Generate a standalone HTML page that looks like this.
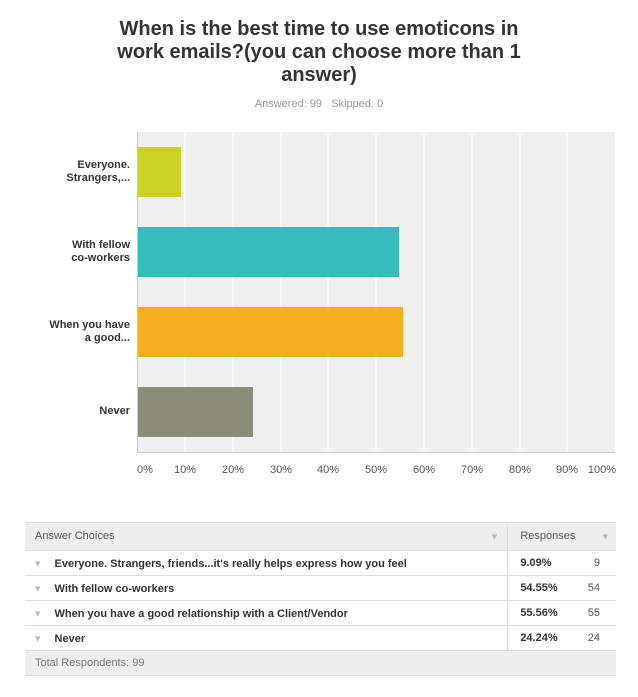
<!DOCTYPE html>
<html><head><style>
body{margin:0;width:638px;height:697px;background:#fff;font-family:"Liberation Sans",Arial,sans-serif;position:relative;overflow:hidden}
.t{position:absolute;left:0;width:638px;text-align:center;font-weight:bold;font-size:20px;color:#333;line-height:23px;top:18px}
.sub{position:absolute;left:0;width:638px;text-align:center;font-size:11px;color:#999;top:98px}
.lab{position:absolute;right:508px;text-align:right;font-size:11px;font-weight:bold;color:#333;line-height:13px}
.xt{position:absolute;top:464px;font-size:11px;color:#555;width:40px;text-align:center}
table{position:absolute;left:25px;top:522px;width:591px;border-collapse:collapse;font-size:11px;color:#333}
td{border-bottom:1px solid #ddd;height:24px;padding:0}
</style></head><body>
<div class="t">When is the best time to use emoticons in<br>work emails?(you can choose more than 1<br>answer)</div>
<div class="sub">Answered: 99&nbsp;&nbsp;&nbsp;Skipped: 0</div>
<svg style="position:absolute;left:0;top:0" width="638" height="697">
<rect x="137" y="132" width="478" height="320" fill="#f0f0f0"/>
<g stroke="#fff" stroke-width="1">
<line x1="185" y1="132" x2="185" y2="452"/><line x1="233" y1="132" x2="233" y2="452"/><line x1="281" y1="132" x2="281" y2="452"/><line x1="328" y1="132" x2="328" y2="452"/><line x1="376" y1="132" x2="376" y2="452"/><line x1="424" y1="132" x2="424" y2="452"/><line x1="472" y1="132" x2="472" y2="452"/><line x1="520" y1="132" x2="520" y2="452"/><line x1="567" y1="132" x2="567" y2="452"/></g>
<line x1="137.5" y1="132" x2="137.5" y2="453" stroke="#ccc"/>
<line x1="137" y1="452.5" x2="615" y2="452.5" stroke="#ccc"/>
<rect x="138" y="147" width="43" height="50" fill="#cbd126"/>
<rect x="138" y="227" width="261" height="50" fill="#35bdbe"/>
<rect x="138" y="307" width="265" height="50" fill="#f6ae20"/>
<rect x="138" y="387" width="115" height="50" fill="#8b8c79"/>
</svg>
<div class="lab" style="top:159px">Everyone.<br>Strangers,...</div>
<div class="lab" style="top:239px">With fellow<br>co-workers</div>
<div class="lab" style="top:319px">When you have<br>a good...</div>
<div class="lab" style="top:405px">Never</div>
<div class="xt" style="left:125px">0%</div><div class="xt" style="left:165px">10%</div><div class="xt" style="left:213px">20%</div><div class="xt" style="left:261px">30%</div><div class="xt" style="left:308px">40%</div><div class="xt" style="left:356px">50%</div><div class="xt" style="left:404px">60%</div><div class="xt" style="left:452px">70%</div><div class="xt" style="left:500px">80%</div><div class="xt" style="left:547px">90%</div><div class="xt" style="left:582px">100%</div>
<table>
<tr style="background:#eee;color:#555"><td style="height:27px;padding-left:10px;border-top:1px solid #ddd">Answer Choices<span style="float:right;color:#bbb;margin-right:10px">▾</span></td><td colspan="2" style="border-left:1px solid #ddd;padding-left:12px;border-top:1px solid #ddd">Responses<span style="float:right;color:#bbb;margin-right:8px">▾</span></td></tr>
<tr><td style="padding-left:10px;font-weight:bold"><span style="color:#bbb;font-weight:normal;margin-right:14px">▾</span>Everyone. Strangers, friends...it's really helps express how you feel</td><td style="border-left:1px solid #ddd;padding-left:12px;font-weight:bold;width:60px">9.09%</td><td style="text-align:right;padding-right:16px;color:#555">9</td></tr>
<tr><td style="padding-left:10px;font-weight:bold"><span style="color:#bbb;font-weight:normal;margin-right:14px">▾</span>With fellow co-workers</td><td style="border-left:1px solid #ddd;padding-left:12px;font-weight:bold">54.55%</td><td style="text-align:right;padding-right:16px;color:#555">54</td></tr>
<tr><td style="padding-left:10px;font-weight:bold"><span style="color:#bbb;font-weight:normal;margin-right:14px">▾</span>When you have a good relationship with a Client/Vendor</td><td style="border-left:1px solid #ddd;padding-left:12px;font-weight:bold">55.56%</td><td style="text-align:right;padding-right:16px;color:#555">55</td></tr>
<tr><td style="padding-left:10px;font-weight:bold"><span style="color:#bbb;font-weight:normal;margin-right:14px">▾</span>Never</td><td style="border-left:1px solid #ddd;padding-left:12px;font-weight:bold">24.24%</td><td style="text-align:right;padding-right:16px;color:#555">24</td></tr>
<tr style="background:#eee;color:#777"><td colspan="3" style="padding-left:10px">Total Respondents: 99</td></tr>
</table>
</body></html>
